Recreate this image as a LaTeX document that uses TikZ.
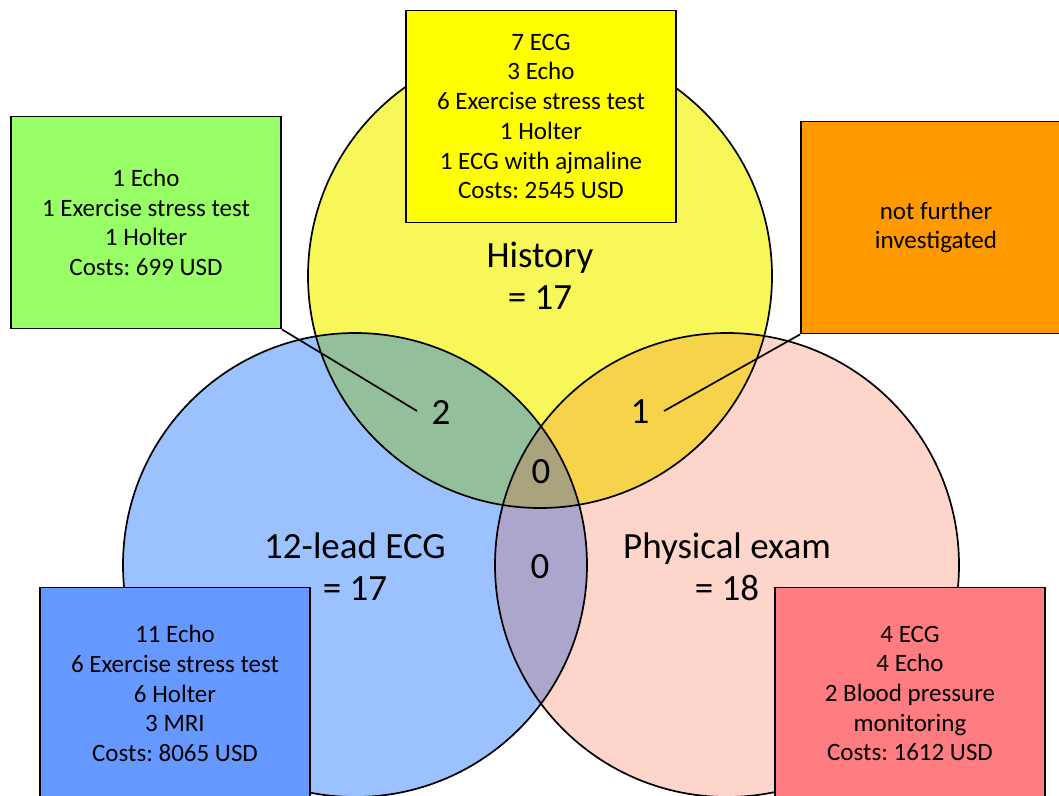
\documentclass[tikz,border=0pt]{standalone}
\usepackage{fontspec}
\setmainfont{Carlito}
\frenchspacing
\definecolor{cy}{HTML}{F7F759}
\definecolor{cb}{HTML}{9BC2FF}
\definecolor{cp}{HTML}{FDD5CA}
\definecolor{cyb}{HTML}{93BF9B}
\definecolor{cyp}{HTML}{F7D24B}
\definecolor{cbp}{HTML}{ACA5CC}
\definecolor{cybp}{HTML}{A9A37E}
\definecolor{boxY}{HTML}{FFFF00}
\definecolor{boxG}{HTML}{99FF66}
\definecolor{boxO}{HTML}{FF9900}
\definecolor{boxB}{HTML}{6699FF}
\definecolor{boxP}{HTML}{FF7C80}
\tikzset{
  ring/.style={circle, draw=black, line width=1.7pt, minimum size=464pt, inner sep=0pt},
  infobox/.style={draw=black, line width=1.7pt, minimum width=270pt, minimum height=212pt,
    align=center, inner sep=0pt, font=\fontsize{25}{29.7}\selectfont},
  big/.style={align=center, inner sep=0pt, font=\fontsize{37}{42}\selectfont},
  lead/.style={line width=1.7pt, draw=black}
}
\begin{document}
\begin{tikzpicture}[x=1pt,y=-1pt]
\useasboundingbox (0,0) rectangle (1059,795);
\clip (0,0) rectangle (1059,795);
\coordinate (cY) at (540,276);
\coordinate (cB) at (355,565);
\coordinate (cP) at (727,565);
% fills
\fill[cy] (cY) circle (232pt);
\fill[cb] (cB) circle (232pt);
\fill[cp] (cP) circle (232pt);
\begin{scope}
  \clip (cY) circle (232pt);
  \fill[cyb] (cB) circle (232pt);
  \fill[cyp] (cP) circle (232pt);
\end{scope}
\begin{scope}
  \clip (cB) circle (232pt);
  \fill[cbp] (cP) circle (232pt);
  \clip (cP) circle (232pt);
  \fill[cybp] (cY) circle (232pt);
\end{scope}
% outlines
\node[ring] (rY) at (cY) {};
\node[ring] (rB) at (cB) {};
\node[ring] (rP) at (cP) {};
% labels
\node[big] (tY) at (540,276) {History\\= 17};
\node[big] (tB) at (355,567) {12-lead ECG\\= 17};
\node[big] (tP) at (727,567) {Physical exam\\= 18};
\node[big] (n2) at (441,412) {2};
\node[big] (n1) at (640,412) {1};
\node[big] (n0a) at (541,472) {0};
\node[big] (n0b) at (540,567) {0};
\coordinate (e2) at (417,411);
\coordinate (e1) at (664,411);
% boxes
\node[infobox, fill=boxY] (bY) at (541,116.5) {7 ECG\\3 Echo\\6 Exercise stress test\\1 Holter\\1 ECG with ajmaline\\Costs: 2545 USD};
\node[infobox, fill=boxG] (bG) at (146,222.5) {1 Echo\\1 Exercise stress test\\1 Holter\\Costs: 699 USD};
\node[infobox, fill=boxO] (bO) at (936,227.5) {not further\\investigated};
\node[infobox, fill=boxB] (bB) at (175,693.5) {11 Echo\\6 Exercise stress test\\6 Holter\\3 MRI\\Costs: 8065 USD};
\node[infobox, fill=boxP] (bP) at (910,693.5) {4 ECG\\4 Echo\\2 Blood pressure\\monitoring\\Costs: 1612 USD};
% leaders
\draw[lead] (bG.south east) -- (e2);
\draw[lead] (bO.south west) -- (e1);
\end{tikzpicture}
\end{document}
